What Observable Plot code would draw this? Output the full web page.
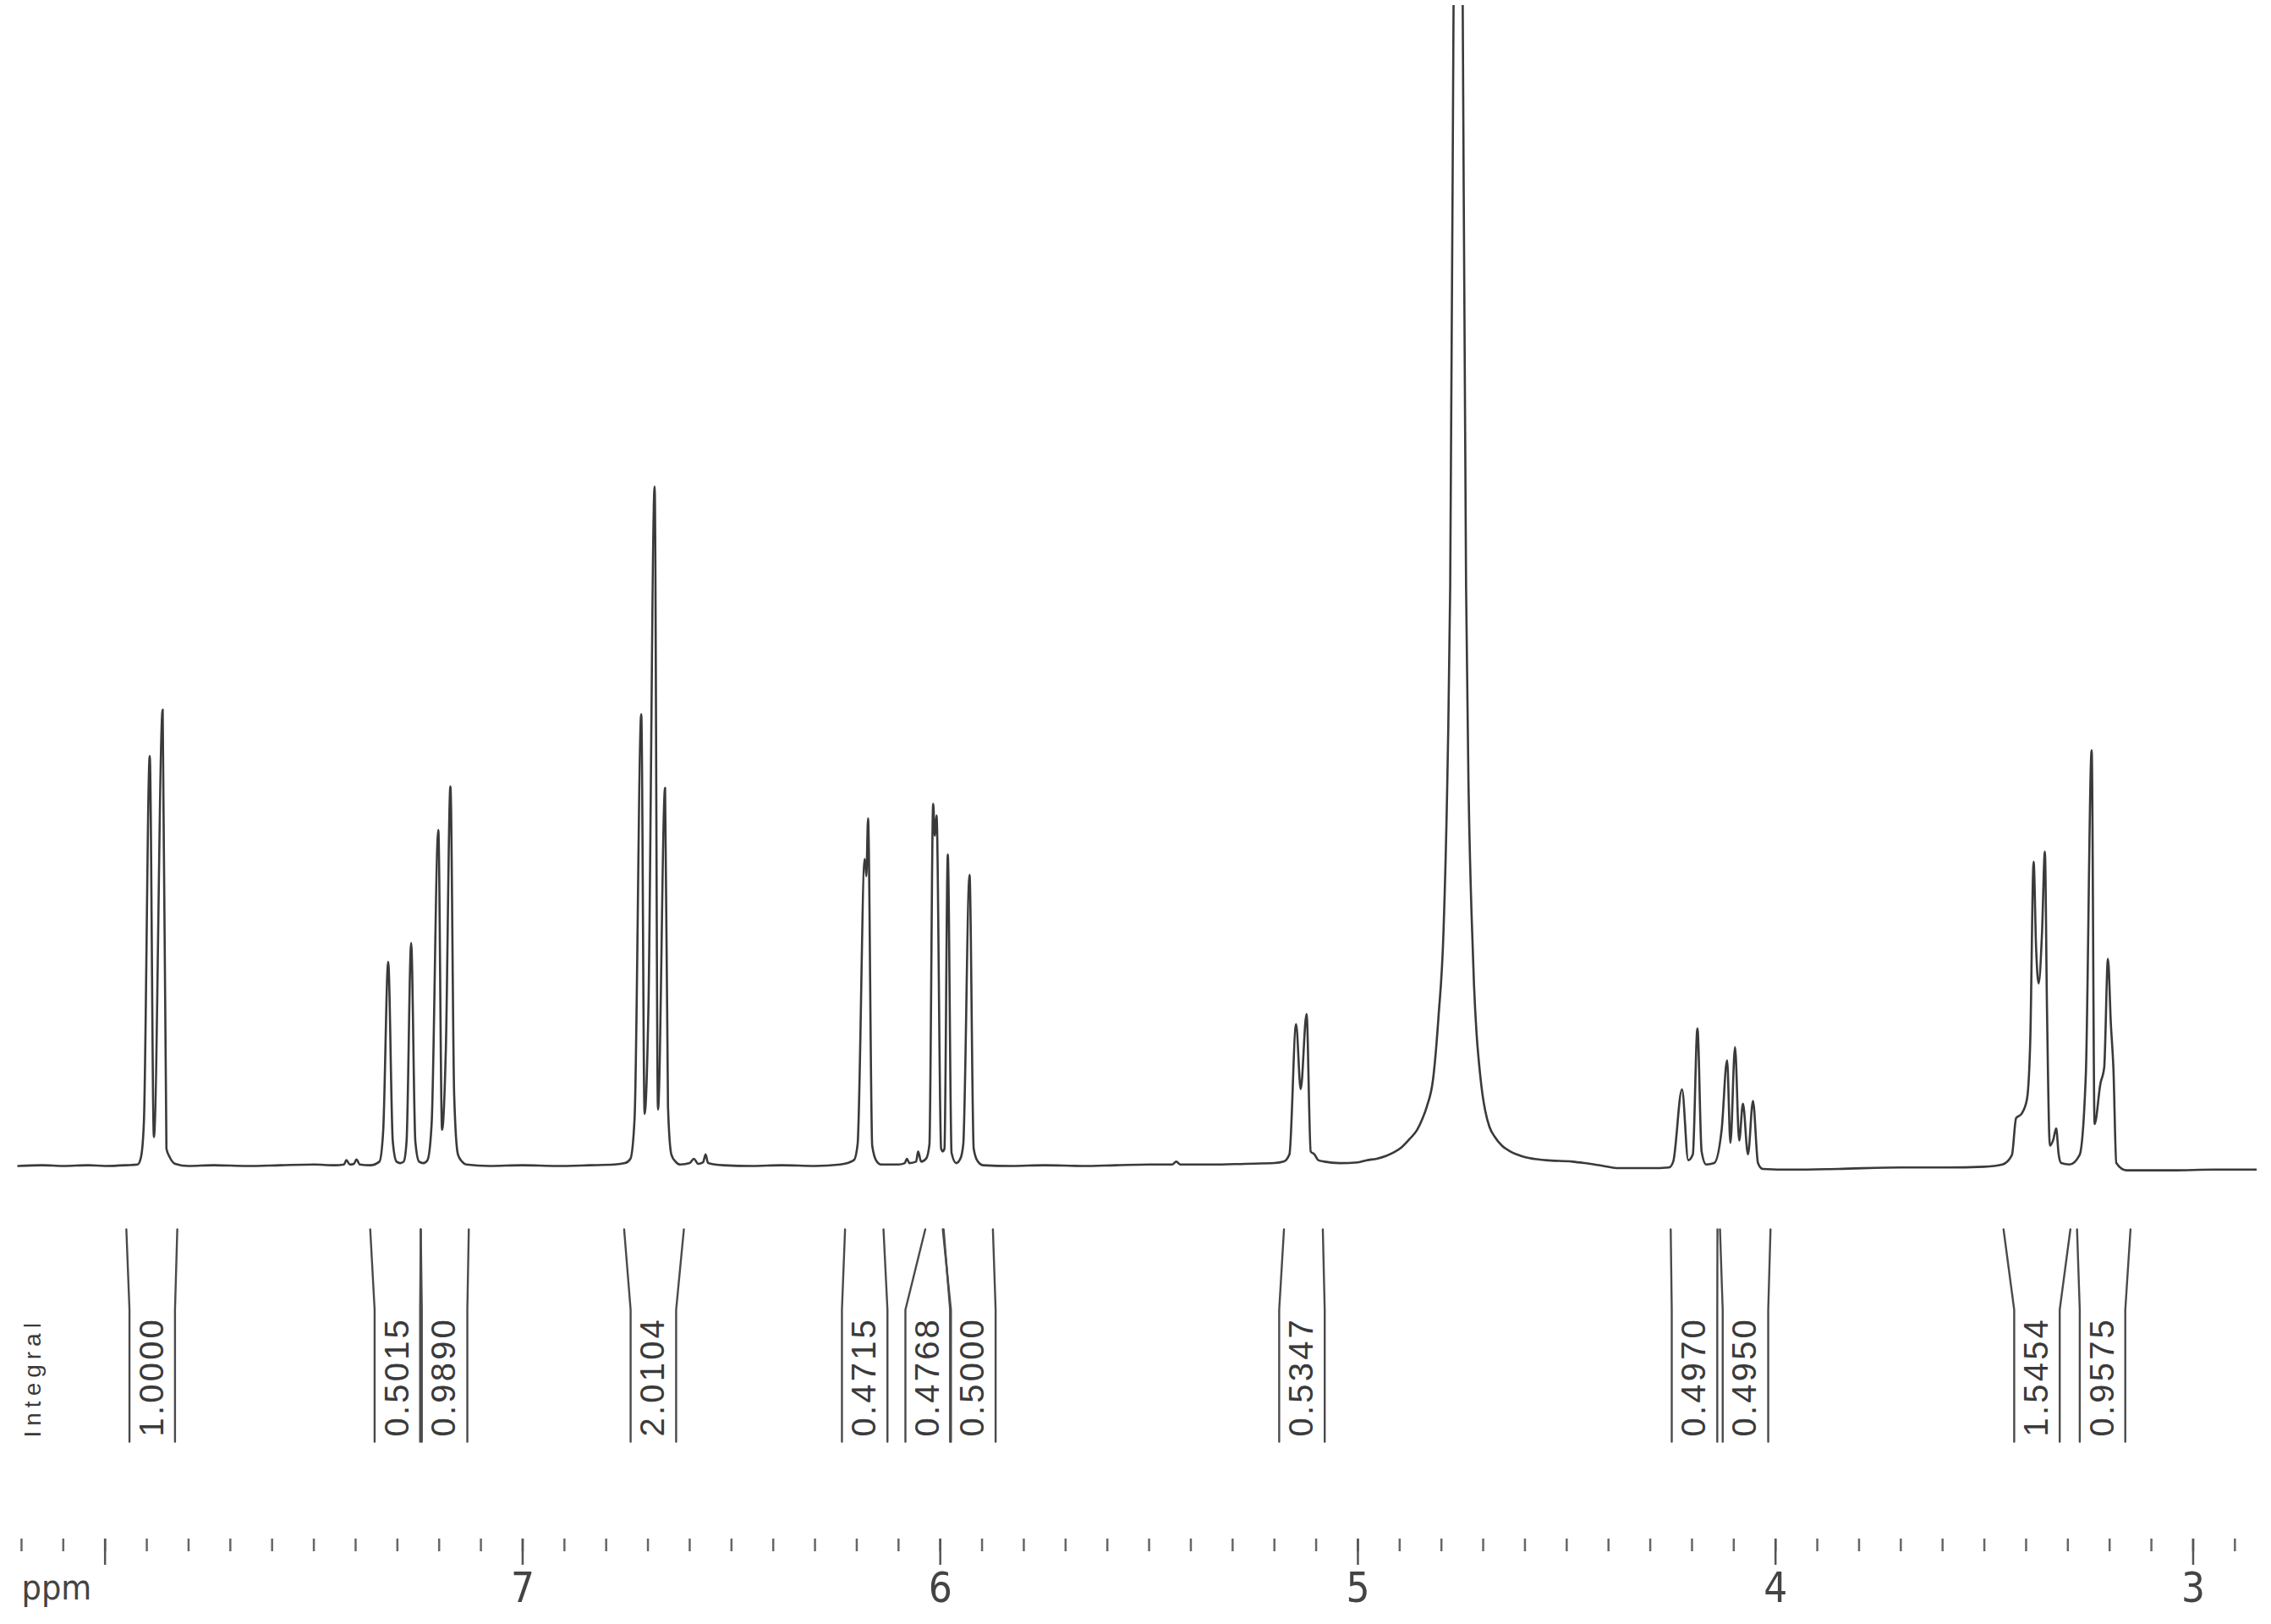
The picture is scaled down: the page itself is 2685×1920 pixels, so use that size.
<!DOCTYPE html>
<html>
<head>
<meta charset="utf-8">
<script src="https://cdn.jsdelivr.net/npm/d3@7"></script>
<script src="https://cdn.jsdelivr.net/npm/@observablehq/plot@0.6"></script>
<style>
  html, body { margin: 0; padding: 0; background: #ffffff; }
  #chart svg { display: block; }
  #chart g[font-size="40"] text { letter-spacing: 3.2px; }
  #chart g[font-size="28"] text { letter-spacing: 6px; }
</style>
</head>
<body>
<div id="chart"></div>
<script>
// ---- Spectrum trace (chemical shift in ppm, intensity in arbitrary units) ----
const ppm = [
  8.209, 8.15, 8.10, 8.04, 8.00, 7.95, 7.922, 7.914, 7.907, 7.893, 7.883, 7.862, 7.853, 7.845, 7.832,
  7.80, 7.74, 7.66, 7.58, 7.50, 7.45, 7.428, 7.422, 7.414, 7.404, 7.398, 7.390, 7.365,
  7.343, 7.334, 7.322, 7.311, 7.302, 7.293, 7.285, 7.278, 7.267, 7.257, 7.248, 7.238,
  7.228, 7.218, 7.202, 7.193, 7.184, 7.173, 7.164, 7.155, 7.145, 7.135,
  7.08, 7.00, 6.92, 6.84, 6.78, 6.755, 6.742, 6.732, 6.716, 6.708, 6.699, 6.684, 6.676,
  6.659, 6.652, 6.644, 6.634, 6.622, 6.600, 6.590, 6.580, 6.568, 6.562, 6.556,
  6.52, 6.45, 6.38, 6.30, 6.24, 6.207, 6.198, 6.181, 6.177, 6.173, 6.163, 6.152, 6.142,
  6.10, 6.085, 6.080, 6.074, 6.058, 6.053, 6.046, 6.034, 6.026, 6.017, 6.013, 6.009,
  5.998, 5.994, 5.990, 5.982, 5.973, 5.962, 5.952, 5.945, 5.930, 5.920, 5.910, 5.898,
  5.83, 5.75, 5.66, 5.58, 5.50, 5.445, 5.435, 5.425, 5.35, 5.27, 5.20,
  5.178, 5.164, 5.148, 5.137, 5.123, 5.113, 5.104, 5.095, 5.080, 5.044, 5.000,
  4.979, 4.955, 4.932, 4.913, 4.895, 4.875, 4.858, 4.845, 4.835, 4.820, 4.807, 4.795,
  4.785, 4.779, 4.771, 4.760, 4.749, 4.741, 4.735, 4.728, 4.722, 4.716, 4.709, 4.702,
  4.695, 4.685, 4.672, 4.655, 4.635, 4.598, 4.55, 4.486, 4.458, 4.412, 4.375, 4.30,
  4.255, 4.245, 4.224, 4.209, 4.198, 4.187, 4.177, 4.166, 4.147, 4.129, 4.116, 4.108,
  4.097, 4.087, 4.078, 4.066, 4.054, 4.042, 4.031,
  3.96, 3.85, 3.70, 3.59, 3.50, 3.457, 3.434, 3.424, 3.411, 3.398, 3.390, 3.382, 3.376,
  3.370, 3.362, 3.355, 3.350, 3.343, 3.335, 3.328, 3.322, 3.316, 3.296, 3.272, 3.257,
  3.243, 3.236, 3.222, 3.213, 3.204, 3.197, 3.191, 3.184, 3.160, 3.05, 2.95, 2.847
];
const intensity = [
  0, 0.5, 0, 0.5, 0, 0.5, 1, 6, 30, 283, 20, 315, 12, 6, 1.5,
  0, 0.5, 0, 0.5, 1, 0.5, 1, 4, 1, 1.5, 4.5, 1, 0.5,
  3, 24, 141, 17, 3, 2, 3, 17, 154, 17, 3, 2,
  4, 29, 232, 25, 80, 262, 49, 8, 3, 1,
  0, 0.5, 0, 0.5, 1, 2, 5, 33, 312, 36, 107, 469, 39,
  261, 41, 8, 3, 1, 2, 5, 1.5, 2.5, 8, 2,
  0.5, 0, 0.5, 0, 1, 4, 15, 212, 200, 240, 14, 3, 1,
  1, 2, 5, 2, 3, 10, 3, 5, 15, 250, 228, 242,
  12, 10, 12, 215, 9, 2, 5, 15, 201, 12, 3, 0.5,
  0, 0.5, 0, 0.5, 1, 1, 3, 1, 1, 1.5, 2,
  3, 8, 98, 53, 105, 10, 8, 4, 3, 2, 2.5,
  4, 5, 7, 9.5, 13, 19, 25, 33, 41, 60, 103, 162,
  280, 400, 800, 1390, 800, 400, 260, 175, 125, 92, 68, 50,
  38, 27, 20, 14, 10, 6, 4, 3, 2, 0, -1.5, -1.5,
  -1, 3, 53, 4, 8, 95, 10, 1, 2, 25, 73, 16,
  82, 17.5, 43, 8, 45, 2, -2,
  -2.5, -2, -1, -1, -0.5, 1, 7.5, 33, 36, 46, 87, 210, 150,
  126, 160, 217, 109, 14, 18, 26, 8, 2, 1, 7.5, 63,
  287, 29, 57, 68, 143, 98, 68, 2, -3, -3, -2.5, -2.5
];

// ---- Integral regions ----
const integralFrom    = [7.949, 7.365, 7.244, 6.757, 6.228, 6.036, 5.992, 5.177, 4.251, 4.133, 3.454, 3.278];
const integralTo      = [7.827, 7.244, 7.129, 6.614, 6.136, 5.994, 5.874, 5.084, 4.139, 4.012, 3.294, 3.150];
const integralLabelAt = [7.887, 7.300, 7.187, 6.687, 6.181, 6.029, 5.922, 5.134, 4.194, 4.072, 3.374, 3.217];
const integralValues  = ["1.0000", "0.5015", "0.9890", "2.0104", "0.4715", "0.4768", "0.5000",
                         "0.5347", "0.4970", "0.4950", "1.5454", "0.9575"];

// ---- Axis ticks ----
const minorTicks = [8.2, 8.1, 8.0, 7.9, 7.8, 7.7, 7.6, 7.5, 7.4, 7.3, 7.2, 7.1, 7.0,
  6.9, 6.8, 6.7, 6.6, 6.5, 6.4, 6.3, 6.2, 6.1, 6.0, 5.9, 5.8, 5.7, 5.6, 5.5, 5.4, 5.3,
  5.2, 5.1, 5.0, 4.9, 4.8, 4.7, 4.6, 4.5, 4.4, 4.3, 4.2, 4.1, 4.0, 3.9, 3.8, 3.7, 3.6,
  3.5, 3.4, 3.3, 3.2, 3.1, 3.0, 2.9];
const majorTicks = [8, 7, 6, 5, 4, 3];
const majorTickLabels = ["", "7", "6", "5", "4", "3"];
const axisTitle = "ppm";
const integralTitle = "Integral";

// ---- Layout (pixels / levels) ----
const W = 2685, H = 1920;
const K = 1.7125;               // px per intensity unit
const baseY = 1378, topY = 6, frameBottom = 1819;
const lvl = y => (baseY - y) / K; // pixel row -> intensity level
const Y_TOP = lvl(1453), Y_KINK = lvl(1548), Y_BOT = lvl(1704), Y_LABEL = lvl(1698);
const HW = 0.0545;              // half width of the lower part of a bracket (ppm)

const spectrum = ppm.map((p, i) => ({ppm: p, h: intensity[i]}));
const integrals = integralFrom.map((f, i) => ({
  from: f, to: integralTo[i], at: integralLabelAt[i], value: integralValues[i]
}));
const brackets = [];
integrals.forEach((d, i) => {
  brackets.push({k: `L${i}`, x: d.from, y: Y_TOP}, {k: `L${i}`, x: d.at + HW, y: Y_KINK}, {k: `L${i}`, x: d.at + HW, y: Y_BOT});
  brackets.push({k: `R${i}`, x: d.to, y: Y_TOP}, {k: `R${i}`, x: d.at - HW, y: Y_KINK}, {k: `R${i}`, x: d.at - HW, y: Y_BOT});
});

const ink = "#3a3a3a";
const labelFont = "'Liberation Sans', Arimo, 'Helvetica', sans-serif";
const narrowFont = "'Liberation Sans Narrow', 'DejaVu Sans Condensed', 'Liberation Sans', sans-serif";

const chart = Plot.plot({
  width: W,
  height: H,
  marginLeft: 20.5,
  marginRight: 17,
  marginTop: topY,
  marginBottom: H - frameBottom,
  x: {domain: [8.209, 2.847], label: null},
  y: {domain: [lvl(frameBottom), lvl(topY)], axis: null},
  style: {background: "#ffffff"},
  marks: [
    Plot.line(spectrum, {x: "ppm", y: "h", stroke: ink, strokeWidth: 2.6, curve: "monotone-x", clip: true}),
    Plot.line(brackets, {x: "x", y: "y", z: "k", stroke: "#4a4a4a", strokeWidth: 2.4}),
    Plot.text(integrals, {
      x: "at", y: Y_LABEL, text: "value", rotate: -90, textAnchor: "start", lineAnchor: "middle",
      fontFamily: labelFont, fontSize: 40, fill: "#3a3a3a"
    }),
    Plot.text([integralTitle], {
      frameAnchor: "left", dx: 18.5, y: lvl(1699), text: d => d, rotate: -90,
      textAnchor: "start", lineAnchor: "middle", fontFamily: labelFont, fontSize: 28, fill: "#3a3a3a"
    }),
    Plot.axisX(minorTicks, {tickSize: 15, tickFormat: () => "", label: null, stroke: "#666", strokeWidth: 2.5}),
    Plot.axisX(majorTicks, {tickSize: 31, tickFormat: () => "", label: null, stroke: "#555", strokeWidth: 2.5}),
    Plot.text(majorTicks, {
      x: d => d, text: (d, i) => majorTickLabels[i], frameAnchor: "bottom", dy: 74,
      lineAnchor: "bottom", textAnchor: "middle", fontFamily: narrowFont, fontSize: 49, fill: "#444"
    }),
    Plot.text([axisTitle], {
      frameAnchor: "bottom-left", dx: 4.5, dy: 71, text: d => d, textAnchor: "start",
      lineAnchor: "bottom", fontFamily: narrowFont, fontSize: 41, fill: "#444"
    })
  ]
});
document.getElementById("chart").appendChild(chart);
</script>
</body>
</html>
